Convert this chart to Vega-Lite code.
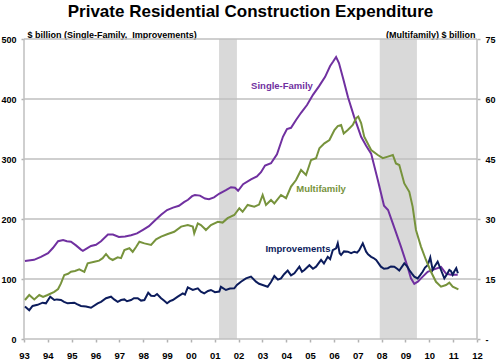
{
  "$schema": "https://vega.github.io/schema/vega-lite/v6.json",
  "width": 453,
  "height": 300,
  "autosize": {"type": "none"},
  "padding": {"left": 24, "top": 39, "right": 23, "bottom": 20},
  "background": "white",
  "title": {
    "text": "Private Residential Construction Expenditure",
    "font": "Liberation Sans",
    "fontSize": 17,
    "fontWeight": "bold",
    "color": "black",
    "anchor": "middle",
    "frame": "group",
    "offset": 9
  },
  "datasets": {
    "recessions": [
      {"start": 2001.18, "end": 2001.93},
      {"start": 2007.92, "end": 2009.48}
    ],
    "frame": [
      {"id": "g0", "year": 1993, "value": 0}, {"id": "g0", "year": 2012, "value": 0},
      {"id": "g100", "year": 1993, "value": 100}, {"id": "g100", "year": 2012, "value": 100},
      {"id": "g200", "year": 1993, "value": 200}, {"id": "g200", "year": 2012, "value": 200},
      {"id": "g300", "year": 1993, "value": 300}, {"id": "g300", "year": 2012, "value": 300},
      {"id": "g400", "year": 1993, "value": 400}, {"id": "g400", "year": 2012, "value": 400},
      {"id": "g500", "year": 1993, "value": 500}, {"id": "g500", "year": 2012, "value": 500},
      {"id": "left", "year": 1993, "value": 0}, {"id": "left", "year": 1993, "value": 500},
      {"id": "right", "year": 2012, "value": 0}, {"id": "right", "year": 2012, "value": 500}
    ],
    "labels": [
      {"series": "Single-Family", "year": 2003.82, "value": 422},
      {"series": "Multifamily", "year": 2005.46, "value": 250},
      {"series": "Improvements", "year": 2004.49, "value": 150}
    ],
    "series": [
      {"series": "Single-Family", "year": 1993.04, "value": 130},
      {"series": "Single-Family", "year": 1993.42, "value": 132},
      {"series": "Single-Family", "year": 1993.71, "value": 137},
      {"series": "Single-Family", "year": 1994.01, "value": 143},
      {"series": "Single-Family", "year": 1994.22, "value": 152},
      {"series": "Single-Family", "year": 1994.43, "value": 163},
      {"series": "Single-Family", "year": 1994.64, "value": 165},
      {"series": "Single-Family", "year": 1994.80, "value": 163},
      {"series": "Single-Family", "year": 1994.97, "value": 162},
      {"series": "Single-Family", "year": 1995.18, "value": 156},
      {"series": "Single-Family", "year": 1995.39, "value": 149},
      {"series": "Single-Family", "year": 1995.47, "value": 147},
      {"series": "Single-Family", "year": 1995.64, "value": 151},
      {"series": "Single-Family", "year": 1995.81, "value": 155},
      {"series": "Single-Family", "year": 1996.02, "value": 157},
      {"series": "Single-Family", "year": 1996.23, "value": 163},
      {"series": "Single-Family", "year": 1996.52, "value": 174},
      {"series": "Single-Family", "year": 1996.73, "value": 174},
      {"series": "Single-Family", "year": 1996.98, "value": 170},
      {"series": "Single-Family", "year": 1997.24, "value": 171},
      {"series": "Single-Family", "year": 1997.49, "value": 173},
      {"series": "Single-Family", "year": 1997.74, "value": 176},
      {"series": "Single-Family", "year": 1997.99, "value": 182},
      {"series": "Single-Family", "year": 1998.24, "value": 188},
      {"series": "Single-Family", "year": 1998.50, "value": 198},
      {"series": "Single-Family", "year": 1998.75, "value": 207},
      {"series": "Single-Family", "year": 1999.00, "value": 215},
      {"series": "Single-Family", "year": 1999.25, "value": 219},
      {"series": "Single-Family", "year": 1999.50, "value": 222},
      {"series": "Single-Family", "year": 1999.71, "value": 228},
      {"series": "Single-Family", "year": 1999.88, "value": 232},
      {"series": "Single-Family", "year": 2000.05, "value": 238},
      {"series": "Single-Family", "year": 2000.17, "value": 240},
      {"series": "Single-Family", "year": 2000.38, "value": 239},
      {"series": "Single-Family", "year": 2000.59, "value": 234},
      {"series": "Single-Family", "year": 2000.76, "value": 233},
      {"series": "Single-Family", "year": 2000.97, "value": 236},
      {"series": "Single-Family", "year": 2001.18, "value": 242},
      {"series": "Single-Family", "year": 2001.47, "value": 248},
      {"series": "Single-Family", "year": 2001.68, "value": 253},
      {"series": "Single-Family", "year": 2001.85, "value": 252},
      {"series": "Single-Family", "year": 2001.98, "value": 247},
      {"series": "Single-Family", "year": 2002.19, "value": 258},
      {"series": "Single-Family", "year": 2002.52, "value": 266},
      {"series": "Single-Family", "year": 2002.77, "value": 271},
      {"series": "Single-Family", "year": 2002.94, "value": 278},
      {"series": "Single-Family", "year": 2003.11, "value": 289},
      {"series": "Single-Family", "year": 2003.36, "value": 293},
      {"series": "Single-Family", "year": 2003.61, "value": 308},
      {"series": "Single-Family", "year": 2003.86, "value": 337},
      {"series": "Single-Family", "year": 2004.03, "value": 350},
      {"series": "Single-Family", "year": 2004.20, "value": 352},
      {"series": "Single-Family", "year": 2004.41, "value": 365},
      {"series": "Single-Family", "year": 2004.62, "value": 377},
      {"series": "Single-Family", "year": 2004.87, "value": 390},
      {"series": "Single-Family", "year": 2005.12, "value": 407},
      {"series": "Single-Family", "year": 2005.37, "value": 421},
      {"series": "Single-Family", "year": 2005.63, "value": 437},
      {"series": "Single-Family", "year": 2005.84, "value": 455},
      {"series": "Single-Family", "year": 2005.96, "value": 462},
      {"series": "Single-Family", "year": 2006.09, "value": 470},
      {"series": "Single-Family", "year": 2006.21, "value": 460},
      {"series": "Single-Family", "year": 2006.38, "value": 435},
      {"series": "Single-Family", "year": 2006.59, "value": 403},
      {"series": "Single-Family", "year": 2006.84, "value": 371},
      {"series": "Single-Family", "year": 2007.14, "value": 337},
      {"series": "Single-Family", "year": 2007.35, "value": 322},
      {"series": "Single-Family", "year": 2007.56, "value": 309},
      {"series": "Single-Family", "year": 2007.84, "value": 265},
      {"series": "Single-Family", "year": 2008.10, "value": 222},
      {"series": "Single-Family", "year": 2008.27, "value": 215},
      {"series": "Single-Family", "year": 2008.52, "value": 187},
      {"series": "Single-Family", "year": 2008.81, "value": 154},
      {"series": "Single-Family", "year": 2009.09, "value": 120},
      {"series": "Single-Family", "year": 2009.23, "value": 101},
      {"series": "Single-Family", "year": 2009.37, "value": 92},
      {"series": "Single-Family", "year": 2009.53, "value": 96},
      {"series": "Single-Family", "year": 2009.65, "value": 101},
      {"series": "Single-Family", "year": 2009.93, "value": 112},
      {"series": "Single-Family", "year": 2010.20, "value": 116},
      {"series": "Single-Family", "year": 2010.49, "value": 120},
      {"series": "Single-Family", "year": 2010.70, "value": 109},
      {"series": "Single-Family", "year": 2010.91, "value": 107},
      {"series": "Single-Family", "year": 2011.19, "value": 107},

      {"series": "Improvements", "year": 1993.04, "value": 54},
      {"series": "Improvements", "year": 1993.22, "value": 48},
      {"series": "Improvements", "year": 1993.36, "value": 55},
      {"series": "Improvements", "year": 1993.57, "value": 57},
      {"series": "Improvements", "year": 1993.78, "value": 60.5},
      {"series": "Improvements", "year": 1993.92, "value": 59.5},
      {"series": "Improvements", "year": 1994.10, "value": 70.5},
      {"series": "Improvements", "year": 1994.27, "value": 65},
      {"series": "Improvements", "year": 1994.38, "value": 66},
      {"series": "Improvements", "year": 1994.55, "value": 65},
      {"series": "Improvements", "year": 1994.68, "value": 62},
      {"series": "Improvements", "year": 1994.83, "value": 59.5},
      {"series": "Improvements", "year": 1995.11, "value": 60.5},
      {"series": "Improvements", "year": 1995.22, "value": 58},
      {"series": "Improvements", "year": 1995.39, "value": 55},
      {"series": "Improvements", "year": 1995.60, "value": 54},
      {"series": "Improvements", "year": 1995.81, "value": 52},
      {"series": "Improvements", "year": 1996.09, "value": 59.5},
      {"series": "Improvements", "year": 1996.23, "value": 62},
      {"series": "Improvements", "year": 1996.44, "value": 68},
      {"series": "Improvements", "year": 1996.65, "value": 70.5},
      {"series": "Improvements", "year": 1996.78, "value": 66},
      {"series": "Improvements", "year": 1996.93, "value": 62},
      {"series": "Improvements", "year": 1997.07, "value": 65},
      {"series": "Improvements", "year": 1997.21, "value": 66},
      {"series": "Improvements", "year": 1997.32, "value": 63},
      {"series": "Improvements", "year": 1997.49, "value": 65},
      {"series": "Improvements", "year": 1997.61, "value": 68},
      {"series": "Improvements", "year": 1997.77, "value": 68},
      {"series": "Improvements", "year": 1997.91, "value": 64},
      {"series": "Improvements", "year": 1998.05, "value": 65},
      {"series": "Improvements", "year": 1998.21, "value": 77},
      {"series": "Improvements", "year": 1998.33, "value": 72},
      {"series": "Improvements", "year": 1998.47, "value": 71.7},
      {"series": "Improvements", "year": 1998.58, "value": 75},
      {"series": "Improvements", "year": 1998.75, "value": 68},
      {"series": "Improvements", "year": 1998.87, "value": 64},
      {"series": "Improvements", "year": 1999.00, "value": 59.5},
      {"series": "Improvements", "year": 1999.12, "value": 63},
      {"series": "Improvements", "year": 1999.24, "value": 65},
      {"series": "Improvements", "year": 1999.45, "value": 70.5},
      {"series": "Improvements", "year": 1999.66, "value": 76},
      {"series": "Improvements", "year": 1999.75, "value": 74},
      {"series": "Improvements", "year": 1999.87, "value": 86},
      {"series": "Improvements", "year": 2000.08, "value": 81.7},
      {"series": "Improvements", "year": 2000.29, "value": 84.5},
      {"series": "Improvements", "year": 2000.42, "value": 79},
      {"series": "Improvements", "year": 2000.56, "value": 76},
      {"series": "Improvements", "year": 2000.72, "value": 80},
      {"series": "Improvements", "year": 2000.84, "value": 81.7},
      {"series": "Improvements", "year": 2001.01, "value": 78},
      {"series": "Improvements", "year": 2001.19, "value": 79},
      {"series": "Improvements", "year": 2001.26, "value": 87},
      {"series": "Improvements", "year": 2001.47, "value": 81.7},
      {"series": "Improvements", "year": 2001.64, "value": 84},
      {"series": "Improvements", "year": 2001.82, "value": 84.5},
      {"series": "Improvements", "year": 2001.93, "value": 90},
      {"series": "Improvements", "year": 2002.10, "value": 95.5},
      {"series": "Improvements", "year": 2002.31, "value": 101},
      {"series": "Improvements", "year": 2002.52, "value": 104},
      {"series": "Improvements", "year": 2002.73, "value": 95.5},
      {"series": "Improvements", "year": 2002.86, "value": 92},
      {"series": "Improvements", "year": 2003.01, "value": 90},
      {"series": "Improvements", "year": 2003.22, "value": 87},
      {"series": "Improvements", "year": 2003.36, "value": 95},
      {"series": "Improvements", "year": 2003.50, "value": 105},
      {"series": "Improvements", "year": 2003.65, "value": 99},
      {"series": "Improvements", "year": 2003.78, "value": 101},
      {"series": "Improvements", "year": 2003.91, "value": 108},
      {"series": "Improvements", "year": 2004.06, "value": 114},
      {"series": "Improvements", "year": 2004.20, "value": 106},
      {"series": "Improvements", "year": 2004.34, "value": 109.5},
      {"series": "Improvements", "year": 2004.55, "value": 120.5},
      {"series": "Improvements", "year": 2004.66, "value": 112},
      {"series": "Improvements", "year": 2004.76, "value": 115},
      {"series": "Improvements", "year": 2004.97, "value": 123},
      {"series": "Improvements", "year": 2005.12, "value": 117},
      {"series": "Improvements", "year": 2005.25, "value": 120.5},
      {"series": "Improvements", "year": 2005.46, "value": 131.7},
      {"series": "Improvements", "year": 2005.58, "value": 126},
      {"series": "Improvements", "year": 2005.74, "value": 137},
      {"series": "Improvements", "year": 2005.84, "value": 133},
      {"series": "Improvements", "year": 2005.95, "value": 148},
      {"series": "Improvements", "year": 2006.09, "value": 151},
      {"series": "Improvements", "year": 2006.16, "value": 159.5},
      {"series": "Improvements", "year": 2006.24, "value": 143},
      {"series": "Improvements", "year": 2006.30, "value": 140},
      {"series": "Improvements", "year": 2006.42, "value": 146},
      {"series": "Improvements", "year": 2006.58, "value": 145.5},
      {"series": "Improvements", "year": 2006.72, "value": 143},
      {"series": "Improvements", "year": 2006.86, "value": 145.5},
      {"series": "Improvements", "year": 2006.97, "value": 144},
      {"series": "Improvements", "year": 2007.06, "value": 148},
      {"series": "Improvements", "year": 2007.21, "value": 159.5},
      {"series": "Improvements", "year": 2007.35, "value": 145.5},
      {"series": "Improvements", "year": 2007.43, "value": 141},
      {"series": "Improvements", "year": 2007.56, "value": 137},
      {"series": "Improvements", "year": 2007.66, "value": 135},
      {"series": "Improvements", "year": 2007.77, "value": 131.7},
      {"series": "Improvements", "year": 2007.97, "value": 120.5},
      {"series": "Improvements", "year": 2008.10, "value": 117},
      {"series": "Improvements", "year": 2008.26, "value": 118},
      {"series": "Improvements", "year": 2008.39, "value": 121},
      {"series": "Improvements", "year": 2008.53, "value": 120.5},
      {"series": "Improvements", "year": 2008.65, "value": 117},
      {"series": "Improvements", "year": 2008.74, "value": 114},
      {"series": "Improvements", "year": 2008.95, "value": 126},
      {"series": "Improvements", "year": 2009.07, "value": 121},
      {"series": "Improvements", "year": 2009.16, "value": 115},
      {"series": "Improvements", "year": 2009.27, "value": 109},
      {"series": "Improvements", "year": 2009.37, "value": 104},
      {"series": "Improvements", "year": 2009.51, "value": 101},
      {"series": "Improvements", "year": 2009.61, "value": 106},
      {"series": "Improvements", "year": 2009.72, "value": 112},
      {"series": "Improvements", "year": 2009.82, "value": 119},
      {"series": "Improvements", "year": 2009.93, "value": 123},
      {"series": "Improvements", "year": 2010.04, "value": 136},
      {"series": "Improvements", "year": 2010.14, "value": 115},
      {"series": "Improvements", "year": 2010.24, "value": 122},
      {"series": "Improvements", "year": 2010.35, "value": 129},
      {"series": "Improvements", "year": 2010.49, "value": 115},
      {"series": "Improvements", "year": 2010.63, "value": 101},
      {"series": "Improvements", "year": 2010.74, "value": 108},
      {"series": "Improvements", "year": 2010.84, "value": 115},
      {"series": "Improvements", "year": 2010.91, "value": 113},
      {"series": "Improvements", "year": 2010.98, "value": 107},
      {"series": "Improvements", "year": 2011.04, "value": 112},
      {"series": "Improvements", "year": 2011.13, "value": 118},
      {"series": "Improvements", "year": 2011.20, "value": 109.5},

      {"series": "Multifamily", "year": 1993.04, "value": 9.75},
      {"series": "Multifamily", "year": 1993.22, "value": 11},
      {"series": "Multifamily", "year": 1993.43, "value": 9.9},
      {"series": "Multifamily", "year": 1993.64, "value": 11},
      {"series": "Multifamily", "year": 1993.80, "value": 10.5},
      {"series": "Multifamily", "year": 1993.99, "value": 11},
      {"series": "Multifamily", "year": 1994.27, "value": 11.8},
      {"series": "Multifamily", "year": 1994.43, "value": 12.5},
      {"series": "Multifamily", "year": 1994.55, "value": 13.9},
      {"series": "Multifamily", "year": 1994.69, "value": 16},
      {"series": "Multifamily", "year": 1994.85, "value": 16.3},
      {"series": "Multifamily", "year": 1994.97, "value": 16.8},
      {"series": "Multifamily", "year": 1995.14, "value": 17},
      {"series": "Multifamily", "year": 1995.32, "value": 17.4},
      {"series": "Multifamily", "year": 1995.53, "value": 16.8},
      {"series": "Multifamily", "year": 1995.67, "value": 18.9},
      {"series": "Multifamily", "year": 1995.95, "value": 19.3},
      {"series": "Multifamily", "year": 1996.15, "value": 19.6},
      {"series": "Multifamily", "year": 1996.30, "value": 20.2},
      {"series": "Multifamily", "year": 1996.44, "value": 21.25},
      {"series": "Multifamily", "year": 1996.58, "value": 20.2},
      {"series": "Multifamily", "year": 1996.72, "value": 19.75},
      {"series": "Multifamily", "year": 1996.93, "value": 20.4},
      {"series": "Multifamily", "year": 1997.07, "value": 20.2},
      {"series": "Multifamily", "year": 1997.21, "value": 22.25},
      {"series": "Multifamily", "year": 1997.42, "value": 22.7},
      {"series": "Multifamily", "year": 1997.56, "value": 21.8},
      {"series": "Multifamily", "year": 1997.70, "value": 23},
      {"series": "Multifamily", "year": 1997.84, "value": 24.3},
      {"series": "Multifamily", "year": 1998.05, "value": 23.9},
      {"series": "Multifamily", "year": 1998.33, "value": 23.5},
      {"series": "Multifamily", "year": 1998.54, "value": 24.9},
      {"series": "Multifamily", "year": 1998.75, "value": 25.6},
      {"series": "Multifamily", "year": 1999.03, "value": 26.25},
      {"series": "Multifamily", "year": 1999.30, "value": 26.8},
      {"series": "Multifamily", "year": 1999.59, "value": 28.1},
      {"series": "Multifamily", "year": 1999.87, "value": 28.5},
      {"series": "Multifamily", "year": 2000.08, "value": 28.1},
      {"series": "Multifamily", "year": 2000.14, "value": 26.4},
      {"series": "Multifamily", "year": 2000.29, "value": 28.9},
      {"series": "Multifamily", "year": 2000.42, "value": 28.5},
      {"series": "Multifamily", "year": 2000.56, "value": 27.7},
      {"series": "Multifamily", "year": 2000.63, "value": 27.25},
      {"series": "Multifamily", "year": 2000.84, "value": 28.5},
      {"series": "Multifamily", "year": 2001.13, "value": 29.3},
      {"series": "Multifamily", "year": 2001.33, "value": 29.1},
      {"series": "Multifamily", "year": 2001.54, "value": 30.2},
      {"series": "Multifamily", "year": 2001.82, "value": 31},
      {"series": "Multifamily", "year": 2002.03, "value": 32.7},
      {"series": "Multifamily", "year": 2002.17, "value": 31.8},
      {"series": "Multifamily", "year": 2002.38, "value": 33.5},
      {"series": "Multifamily", "year": 2002.66, "value": 33.1},
      {"series": "Multifamily", "year": 2002.86, "value": 33.6},
      {"series": "Multifamily", "year": 2003.01, "value": 36},
      {"series": "Multifamily", "year": 2003.15, "value": 33.5},
      {"series": "Multifamily", "year": 2003.36, "value": 34.75},
      {"series": "Multifamily", "year": 2003.50, "value": 33.9},
      {"series": "Multifamily", "year": 2003.78, "value": 36},
      {"series": "Multifamily", "year": 2003.99, "value": 35.2},
      {"series": "Multifamily", "year": 2004.20, "value": 38.1},
      {"series": "Multifamily", "year": 2004.41, "value": 39.75},
      {"series": "Multifamily", "year": 2004.62, "value": 42.25},
      {"series": "Multifamily", "year": 2004.83, "value": 41},
      {"series": "Multifamily", "year": 2005.04, "value": 44.75},
      {"series": "Multifamily", "year": 2005.25, "value": 45.2},
      {"series": "Multifamily", "year": 2005.39, "value": 47.7},
      {"series": "Multifamily", "year": 2005.60, "value": 48.9},
      {"series": "Multifamily", "year": 2005.81, "value": 49.75},
      {"series": "Multifamily", "year": 2006.02, "value": 52.25},
      {"series": "Multifamily", "year": 2006.16, "value": 53.25},
      {"series": "Multifamily", "year": 2006.30, "value": 53.5},
      {"series": "Multifamily", "year": 2006.41, "value": 51.4},
      {"series": "Multifamily", "year": 2006.58, "value": 52.25},
      {"series": "Multifamily", "year": 2006.79, "value": 53.5},
      {"series": "Multifamily", "year": 2006.93, "value": 55.2},
      {"series": "Multifamily", "year": 2007.02, "value": 55.6},
      {"series": "Multifamily", "year": 2007.14, "value": 54},
      {"series": "Multifamily", "year": 2007.27, "value": 50.6},
      {"series": "Multifamily", "year": 2007.56, "value": 47.25},
      {"series": "Multifamily", "year": 2007.84, "value": 46},
      {"series": "Multifamily", "year": 2008.05, "value": 45.2},
      {"series": "Multifamily", "year": 2008.26, "value": 45.6},
      {"series": "Multifamily", "year": 2008.47, "value": 46},
      {"series": "Multifamily", "year": 2008.60, "value": 43.9},
      {"series": "Multifamily", "year": 2008.74, "value": 43.5},
      {"series": "Multifamily", "year": 2008.95, "value": 38.9},
      {"series": "Multifamily", "year": 2009.16, "value": 36.8},
      {"series": "Multifamily", "year": 2009.30, "value": 33.1},
      {"series": "Multifamily", "year": 2009.44, "value": 27.25},
      {"series": "Multifamily", "year": 2009.65, "value": 23.1},
      {"series": "Multifamily", "year": 2009.86, "value": 19.75},
      {"series": "Multifamily", "year": 2010.07, "value": 16.8},
      {"series": "Multifamily", "year": 2010.28, "value": 14.3},
      {"series": "Multifamily", "year": 2010.49, "value": 13.1},
      {"series": "Multifamily", "year": 2010.70, "value": 13.5},
      {"series": "Multifamily", "year": 2010.84, "value": 14.1},
      {"series": "Multifamily", "year": 2010.98, "value": 13.1},
      {"series": "Multifamily", "year": 2011.22, "value": 12.4}
    ]
  },
  "config": {
    "font": "Liberation Sans",
    "view": {"stroke": null},
    "axis": {
      "labelFont": "Liberation Sans",
      "labelFontWeight": "bold",
      "labelFontSize": 9,
      "labelColor": "black",
      "titleFont": "Liberation Sans",
      "titleFontWeight": "bold",
      "titleFontSize": 9,
      "titleColor": "black",
      "domain": false,
      "tickColor": "#b3b3b3",
      "tickWidth": 1.5,
      "tickSize": 3,
      "grid": false
    }
  },
  "layer": [
    {
      "layer": [
        {
          "data": {"name": "recessions"},
          "mark": {"type": "rect", "color": "#d9d9d9"},
          "encoding": {
            "x": {
              "field": "start", "type": "quantitative", "scale": {"domain": [1993, 2012], "nice": false},
              "axis": {"title": null, "domain": false, "values": [1993,1994,1995,1996,1997,1998,1999,2000,2001,2002,2003,2004,2005,2006,2007,2008,2009,2010,2011,2012], "labelExpr": "slice('0' + (datum.value % 100), -2)", "labelPadding": 8, "labelFontSize": 9.5, "labelFlush": false, "labelOverlap": false, "grid": false}
            },
            "x2": {"field": "end"}
          }
        },
        {
          "data": {"name": "frame"},
          "mark": {"type": "line", "stroke": "#bfbfbf", "strokeWidth": 1.5},
          "encoding": {
            "x": {
              "field": "year", "type": "quantitative", "scale": {"domain": [1993, 2012], "nice": false},
              "axis": {"title": null, "domain": false, "values": [1993,1994,1995,1996,1997,1998,1999,2000,2001,2002,2003,2004,2005,2006,2007,2008,2009,2010,2011,2012], "labelExpr": "slice('0' + (datum.value % 100), -2)", "labelPadding": 8, "labelFontSize": 9.5, "labelFlush": false, "labelOverlap": false, "grid": false}
            },
            "y": {
              "field": "value", "type": "quantitative", "scale": {"domain": [0, 500], "nice": false},
              "axis": {"title": "$ billion (Single-Family,\u00a0 Improvements)", "domain": false, "values": [0, 100, 200, 300, 400, 500], "labelPadding": 5, "titleAngle": 0, "titleAlign": "left", "titleBaseline": "alphabetic", "titleX": 3, "titleY": -2}
            },
            "detail": {"field": "id", "type": "nominal"}
          }
        },
        {
          "data": {"name": "series"},
          "transform": [{"filter": "datum.series !== 'Multifamily'"}],
          "mark": {"type": "line", "strokeWidth": 2},
          "encoding": {
            "x": {
              "field": "year", "type": "quantitative", "scale": {"domain": [1993, 2012], "nice": false},
              "axis": {"title": null, "domain": false, "values": [1993,1994,1995,1996,1997,1998,1999,2000,2001,2002,2003,2004,2005,2006,2007,2008,2009,2010,2011,2012], "labelExpr": "slice('0' + (datum.value % 100), -2)", "labelPadding": 8, "labelFontSize": 9.5, "labelFlush": false, "labelOverlap": false, "grid": false}
            },
            "y": {
              "field": "value", "type": "quantitative",
              "scale": {"domain": [0, 500], "nice": false},
              "axis": {"title": "$ billion (Single-Family,\u00a0 Improvements)", "domain": false, "values": [0, 100, 200, 300, 400, 500], "labelPadding": 5, "titleAngle": 0, "titleAlign": "left", "titleBaseline": "alphabetic", "titleX": 3, "titleY": -2}
            },
            "color": {
              "field": "series", "type": "nominal",
              "scale": {"domain": ["Single-Family", "Improvements", "Multifamily"], "range": ["#7030A0", "#0C1C5C", "#77933C"]},
              "legend": null
            }
          }
        },
        {
          "data": {"name": "labels"},
          "mark": {"type": "text", "font": "Liberation Sans", "fontWeight": "bold", "fontSize": 9.5, "align": "center", "baseline": "middle"},
          "encoding": {
            "x": {
              "field": "year", "type": "quantitative", "scale": {"domain": [1993, 2012], "nice": false},
              "axis": {"title": null, "domain": false, "values": [1993,1994,1995,1996,1997,1998,1999,2000,2001,2002,2003,2004,2005,2006,2007,2008,2009,2010,2011,2012], "labelExpr": "slice('0' + (datum.value % 100), -2)", "labelPadding": 8, "labelFontSize": 9.5, "labelFlush": false, "labelOverlap": false, "grid": false}
            },
            "y": {
              "field": "value", "type": "quantitative", "scale": {"domain": [0, 500], "nice": false},
              "axis": {"title": "$ billion (Single-Family,\u00a0 Improvements)", "domain": false, "values": [0, 100, 200, 300, 400, 500], "labelPadding": 5, "titleAngle": 0, "titleAlign": "left", "titleBaseline": "alphabetic", "titleX": 3, "titleY": -2}
            },
            "text": {"field": "series"},
            "color": {"field": "series", "type": "nominal", "legend": null}
          }
        }
      ]
    },
    {
      "data": {"name": "series"},
      "transform": [{"filter": "datum.series === 'Multifamily'"}],
      "mark": {"type": "line", "strokeWidth": 2},
      "encoding": {
        "x": {
          "field": "year", "type": "quantitative", "scale": {"domain": [1993, 2012], "nice": false},
          "axis": {"title": null, "domain": false, "values": [1993,1994,1995,1996,1997,1998,1999,2000,2001,2002,2003,2004,2005,2006,2007,2008,2009,2010,2011,2012], "labelExpr": "slice('0' + (datum.value % 100), -2)", "labelPadding": 8, "labelFontSize": 9.5, "labelFlush": false, "labelOverlap": false, "grid": false}
        },
        "y": {
          "field": "value", "type": "quantitative",
          "scale": {"domain": [0, 75], "nice": false},
          "axis": {"orient": "right", "title": "(Multifamily) $ billion", "domain": false, "values": [0, 15, 30, 45, 60, 75], "grid": false, "labelPadding": 5, "labelExpr": "datum.value === 0 ? '-' : datum.label", "titleAngle": 0, "titleAlign": "right", "titleBaseline": "alphabetic", "titleX": -2, "titleY": -2}
        },
        "color": {"field": "series", "type": "nominal", "legend": null}
      }
    }
  ],
  "resolve": {"scale": {"y": "independent"}}
}
